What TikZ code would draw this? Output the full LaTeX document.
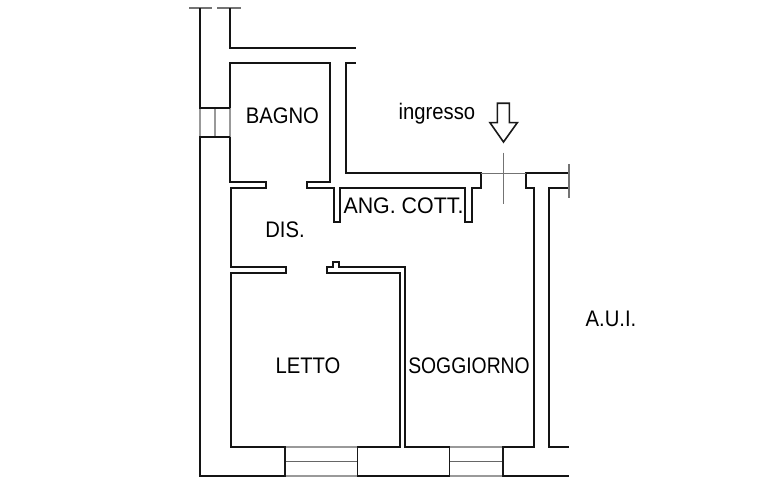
\documentclass[tikz,border=0pt]{standalone}
\usepackage{fontspec}
\usepackage{graphicx}
\setmainfont{Liberation Sans}
\newcommand{\lbl}[2][0.90]{\scalebox{#1}[1]{#2}}
\tikzset{
  wall/.style={draw=black!92,line width=2pt,line cap=butt,line join=miter},
  thin wall/.style={draw=black!55,line width=1.1pt},
  opening/.style={draw=black!40,line width=1.2pt},
  midline/.style={draw=black!60,line width=1.3pt},
  frame/.style={draw=black!90,line width=1.6pt},
  label/.style={anchor=base,inner sep=0pt,text=black,font=\fontsize{22.5}{24}\selectfont}
}
\begin{document}
\begin{tikzpicture}[x=1pt,y=-1pt]
\useasboundingbox (0,0) rectangle (764,492);
% wall ends at the top
\draw[thin wall] (189,8) -- (212,8) (217,8) -- (241,8);
% bathroom window
\draw[opening] (200,108) -- (200,137) (215,108) -- (215,137) (230,108) -- (230,137);
% outer left wall
\draw[wall] (200,8) -- (200,108) -- (230,108);
\draw[wall] (230,137) -- (200,137) -- (200,476) -- (285,476);
% upper corridor wall
\draw[wall] (230,8) -- (230,48.5) -- (356,48.5);
% bathroom
\draw[wall] (230,108) -- (230,63.3) -- (330,63.3) -- (330,182) -- (306.7,182) -- (306.7,188)
  -- (333.5,188) -- (333.5,222) -- (340,222) -- (340,188) -- (465.3,188) -- (465.3,222.5)
  -- (472,222.5) -- (472,188) -- (481,188) -- (481,173.3) -- (345.5,173.3) -- (345.5,63.3) -- (356,63.3);
\draw[wall] (230,137) -- (230,182) -- (266,182) -- (266,188) -- (230.5,188) -- (230.5,267.3)
  -- (285.7,267.3) -- (285.7,272.7) -- (230.5,272.7) -- (230.5,447) -- (285,447);
% bedroom / living wall
\draw[wall] (357,447) -- (400,447) -- (400,272.7) -- (326.7,272.7) -- (326.7,267.3) -- (333,267.3)
  -- (333,262) -- (339.3,262) -- (339.3,267.3) -- (405.3,267.3) -- (405.3,447) -- (449.3,447);
% right wall
\draw[wall] (503,447) -- (533.5,447) -- (533.5,187.7) -- (526,187.7) -- (526,173.3) -- (569,173.3);
\draw[wall] (569,187.7) -- (549,187.7) -- (549,447) -- (569,447);
\draw[thin wall] (569,164) -- (569,198);
% entrance door
\draw[thin wall] (481,173.3) -- (526,173.3);
\draw[thin wall] (503.4,152.7) -- (503.4,204);
% bottom windows
\draw[opening] (285,447) -- (357.3,447) (285,476) -- (357.3,476);
\draw[midline] (285,461.7) -- (357.3,461.7);
\draw[opening] (449.3,447) -- (503,447) (449.3,476) -- (503,476);
\draw[midline] (449.3,461.7) -- (503,461.7);
\draw[frame] (285,446) -- (285,477) (357.3,446) -- (357.3,477) (449.3,446) -- (449.3,477) (503,446) -- (503,477);
\draw[wall] (357.3,476) -- (449.3,476) (503,476) -- (569,476);
% arrow
\draw[frame,fill=white] (497.3,103.3) -- (509.3,103.3) -- (509.3,122.7) -- (517.3,122.7)
  -- (503.5,142) -- (490,122.7) -- (497.3,122.7) -- cycle;
% labels
\node[label] (bagno) at (282.4,124) {\lbl{BAGNO}};
\node[label] (ingresso) at (437,120) {\lbl{ingresso}};
\node[label] (cott) at (403.5,214) {\lbl[0.95]{ANG. COTT.}};
\node[label] (dis) at (285,238) {\lbl{DIS.}};
\node[label] (letto) at (308,373) {\lbl{LETTO}};
\node[label] (soggiorno) at (469,373) {\lbl[0.86]{SOGGIORNO}};
\node[label] (aui) at (611,326) {\lbl{A.U.I.}};
\end{tikzpicture}
\end{document}
